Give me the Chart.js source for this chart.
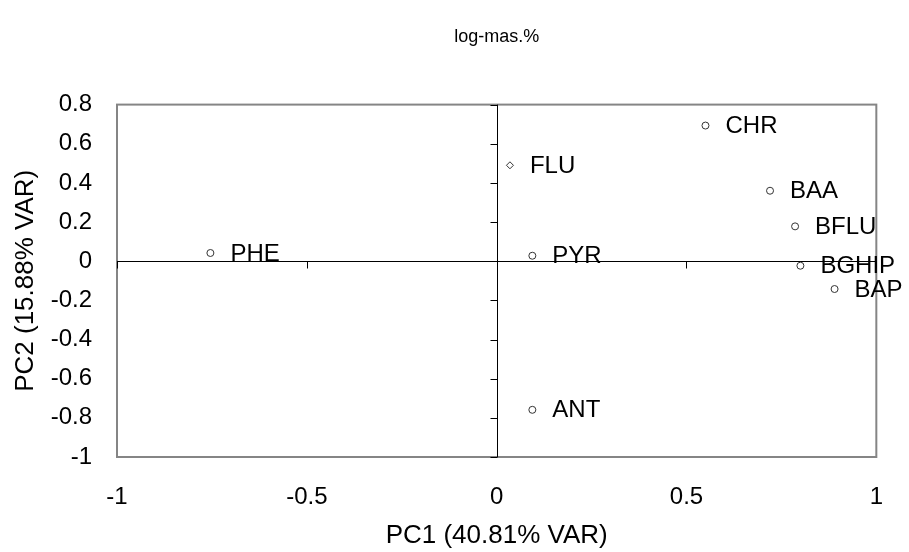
<!DOCTYPE html>
<html>
<head>
<meta charset="utf-8">
<script src="https://cdn.jsdelivr.net/npm/chart.js@4/dist/chart.umd.min.js"></script>
<style>
  html, body { margin: 0; padding: 0; background: #fff; }
  #wrap { width: 909px; height: 552px; position: relative; }
</style>
</head>
<body>
<div id="wrap"><canvas id="pca"></canvas></div>
<script>
// PCA loadings (log-mas.%)
const compounds = ['PHE', 'FLU', 'CHR', 'BAA', 'BFLU', 'BGHIP', 'BAP', 'PYR', 'ANT'];
const pc1 = [-0.754, 0.035, 0.55, 0.72, 0.786, 0.80, 0.89, 0.094, 0.094];
const pc2 = [0.042, 0.49, 0.693, 0.36, 0.178, -0.023, -0.142, 0.028, -0.759];
const markers = ['circle', 'rectRot', 'circle', 'circle', 'circle', 'circle', 'circle', 'circle', 'circle'];

const xTicks = [-1, -0.5, 0, 0.5, 1];
const yTicks = [0.8, 0.6, 0.4, 0.2, 0, -0.2, -0.4, -0.6, -0.8, -1];

const FONT = "'Liberation Sans', Arial, sans-serif";

// grey frame round the plot area
const frame = {
  id: 'frame',
  beforeDatasetsDraw(chart) {
    const { ctx, chartArea: a } = chart;
    ctx.save();
    ctx.strokeStyle = '#858585';
    ctx.lineWidth = 2;
    ctx.strokeRect(a.left, a.top, a.right - a.left, a.bottom - a.top);
    ctx.restore();
  }
};

// axes through the origin, with outside tick marks
const originAxes = {
  id: 'originAxes',
  beforeDatasetsDraw(chart) {
    const { ctx, chartArea: a, scales: { x, y } } = chart;
    const x0 = Math.round(x.getPixelForValue(0)) + 0.5;
    const y0 = Math.round(y.getPixelForValue(0)) + 0.5;
    ctx.save();
    ctx.strokeStyle = '#000';
    ctx.lineWidth = 1;
    ctx.beginPath();
    ctx.moveTo(x0, a.top);
    ctx.lineTo(x0, a.bottom);
    ctx.moveTo(a.left, y0);
    ctx.lineTo(a.right, y0);
    yTicks.forEach(v => {
      const py = Math.round(y.getPixelForValue(v)) + 0.5;
      ctx.moveTo(x0 - 7, py);
      ctx.lineTo(x0, py);
    });
    xTicks.forEach(v => {
      const px = Math.round(x.getPixelForValue(v)) + 0.5;
      ctx.moveTo(px, y0);
      ctx.lineTo(px, y0 + 7);
    });
    ctx.stroke();
    ctx.restore();
  }
};

// compound names next to each point
const pointNames = {
  id: 'pointNames',
  afterDatasetsDraw(chart) {
    const { ctx } = chart;
    const meta = chart.getDatasetMeta(0);
    ctx.save();
    ctx.font = '24px ' + FONT;
    ctx.fillStyle = '#000';
    ctx.textAlign = 'left';
    ctx.textBaseline = 'middle';
    meta.data.forEach((pt, i) => {
      ctx.fillText(compounds[i], pt.x + 20, pt.y + 1);
    });
    ctx.restore();
  }
};

const fmt = v => String(Number(v.toFixed(1)));

new Chart(document.getElementById('pca'), {
  type: 'scatter',
  data: {
    datasets: [{
      data: pc1.map((v, i) => ({ x: v, y: pc2[i] })),
      pointStyle: markers,
      pointRadius: 3.5,
      pointBackgroundColor: '#fff',
      pointBorderColor: '#333',
      pointBorderWidth: 1
    }]
  },
  options: {
    responsive: true,
    maintainAspectRatio: false,
    animation: false,
    layout: { padding: { left: 0, right: 31, top: 0, bottom: 0 } },
    plugins: {
      legend: { display: false },
      tooltip: { enabled: false },
      title: {
        display: true,
        fullSize: false,
        text: 'log-mas.%',
        color: '#000',
        font: { family: FONT, size: 18, weight: 'normal' },
        padding: { top: 26, bottom: 57 }
      }
    },
    scales: {
      x: {
        type: 'linear',
        min: -1,
        max: 1,
        grid: { display: false, drawTicks: false },
        border: { display: false },
        afterBuildTicks: s => { s.ticks = xTicks.map(v => ({ value: v })); },
        afterFit: s => { s.height = 95; },
        ticks: {
          color: '#000',
          padding: 26,
          font: { family: FONT, size: 24 },
          callback: fmt
        },
        title: {
          display: true,
          text: 'PC1 (40.81% VAR)',
          color: '#000',
          font: { family: FONT, size: 26 },
          padding: { top: 0, bottom: 1 }
        }
      },
      y: {
        type: 'linear',
        min: -1,
        max: 0.8,
        grid: { display: false, drawTicks: false },
        border: { display: false },
        afterBuildTicks: s => { s.ticks = yTicks.map(v => ({ value: v })); },
        afterFit: s => { s.width = 117; },
        ticks: {
          color: '#000',
          padding: 25,
          font: { family: FONT, size: 24 },
          callback: fmt
        },
        title: {
          display: true,
          text: 'PC2 (15.88% VAR)',
          color: '#000',
          font: { family: FONT, size: 26 },
          padding: { top: 10, bottom: 0 }
        }
      }
    }
  },
  plugins: [frame, originAxes, pointNames]
});
</script>
</body>
</html>
